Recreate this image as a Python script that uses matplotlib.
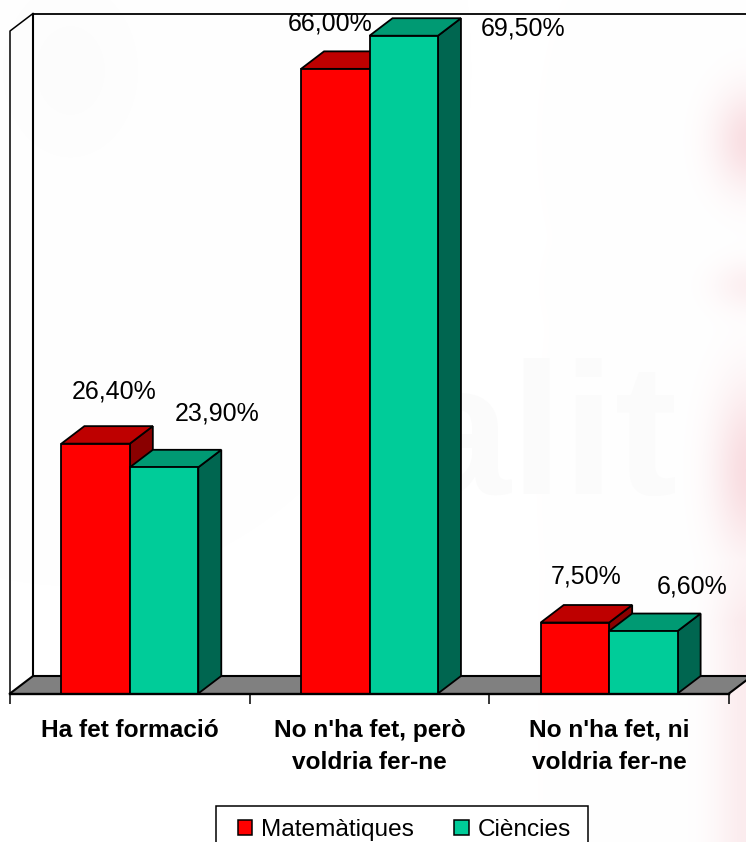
import numpy as np
import matplotlib.pyplot as plt
from matplotlib.patches import Polygon, Patch, Rectangle

plt.rcParams['font.family'] = ['Liberation Sans', 'DejaVu Sans']

W, H = 746, 842

categories = ["Ha fet formació", "No n'ha fet, però\nvoldria fer-ne", "No n'ha fet, ni\nvoldria fer-ne"]
series_names = ["Matemàtiques", "Ciències"]
matematiques = [26.4, 66.0, 7.5]
ciencies = [23.9, 69.5, 6.6]
y_max = 70

# colours: front, top, side
red_faces = ("#ff0000", "#be0000", "#8a0000")
teal_faces = ("#00cc99", "#009a73", "#006650")

# label offsets from the top centre of each front face, in pixels
red_offsets = [(19, 52), (-5, 45), (11, 46)]
teal_offsets = [(53, 54), (119, 7), (49, 45)]


def px_rect(left, top, right, bottom):
    return [left/W, 1-bottom/H, (right-left)/W, (bottom-top)/H]


fig = plt.figure(figsize=(W/100, H/100), dpi=100)

# pale scan background
bg = fig.add_axes([0, 0, 1, 1], zorder=0)
bg.axis("off")
X, Y = np.meshgrid(np.arange(W), np.arange(H))
strength = (0.45*np.clip((Y-560)/60, 0, 1)
            + 0.75*np.exp(-((Y-140)/50.0)**2)
            + 0.35*np.exp(-((Y-285)/25.0)**2)
            + 0.8*np.exp(-((Y-470)/85.0)**2))
pink = np.exp(-((X-750)/36.0)**2) * strength
grey = 0.01*np.exp(-((X-70)/70.0)**2 - ((Y-70)/90.0)**2)
img = np.ones((H, W, 3))
img[..., 0] -= grey + 0.03*pink
img[..., 1] -= grey + 0.17*pink
img[..., 2] -= grey + 0.15*pink
bg.imshow(np.clip(img, 0, 1), extent=(0, W, H, 0), aspect="auto")
bg.text(490, 445, "ealit", fontsize=135, color="#fbfbfb", ha="center", va="center", fontweight="bold")

ax = fig.add_axes(px_rect(10, 31, 729, 693.5), zorder=1)
ax.patch.set_alpha(0)
ax.set_xlim(0, 3)
ax.set_ylim(0, y_max)

# depth of the 3D box in data units
dx = 23 / (719/3)
dy = 17.5 / (662.5/y_max)
bar_w = 0.2856

# walls and floor
ax.add_patch(Polygon([(0, 0), (dx, dy), (3+dx, dy), (3, 0)], fc="#808080", ec="none", clip_on=False, zorder=1))
for xs, ys, lw in [([0, 0, dx], [0, y_max, y_max+dy], 1.1),
                   ([dx, dx], [dy, y_max+dy], 1.5),
                   ([dx, 3+dx], [y_max+dy, y_max+dy], 1.3),
                   ([0, dx, 3+dx, 3], [0, dy, dy, 0], 1.5)]:
    ax.plot(xs, ys, color="black", lw=lw, clip_on=False, zorder=1.5)

x = np.arange(len(categories)) + 0.5


def draw_bars(xpos, values, faces, offsets):
    front, top, side = faces
    for xi, v, off in zip(xpos, values, offsets):
        l, r = xi-bar_w/2, xi+bar_w/2
        ax.add_patch(Polygon([(r, 0), (r+dx, dy), (r+dx, v+dy), (r, v)], fc=side, ec="black", lw=1.3, zorder=2, clip_on=False))
        ax.add_patch(Polygon([(l, v), (l+dx, v+dy), (r+dx, v+dy), (r, v)], fc=top, ec="black", lw=1.3, zorder=2, clip_on=False))
        ax.bar(xi, v, bar_w, color=front, edgecolor="black", lw=1.3, zorder=2, clip_on=False)
        ax.annotate(f"{v:.2f}%".replace(".", ","), (xi, v), xytext=(off[0]*0.72, off[1]*0.72),
                    textcoords="offset points", ha="center", va="center", fontsize=18, color="black", zorder=5)


draw_bars(x-bar_w/2, matematiques, red_faces, red_offsets)
draw_bars(x+bar_w/2, ciencies, teal_faces, teal_offsets)

ax.set_yticks([])
for s in ["top", "left", "right"]:
    ax.spines[s].set_visible(False)
ax.spines["bottom"].set_linewidth(1.7)
ax.spines["bottom"].set_zorder(3)
ax.set_xticks([0, 1, 2, 3], labels=[])
ax.tick_params(axis="x", which="major", length=7.2, width=1.1)
ax.set_xticks(x, labels=categories, minor=True)
ax.tick_params(axis="x", which="minor", length=0, pad=18.2)
for t in ax.get_xticklabels(minor=True):
    t.set_fontsize(17.6)
    t.set_fontweight("bold")
    t.set_linespacing(1.5)
    t.set_color("black")

fig.add_artist(Rectangle((216/W, 1-850/H), 372/W, 44/H, transform=fig.transFigure, fc="white", ec="black", lw=1.1, zorder=6))
handles = [Patch(fc=red_faces[0], ec="black", lw=1.1), Patch(fc=teal_faces[0], ec="black", lw=1.1)]
leg = fig.legend(handles, series_names, loc="center", bbox_to_anchor=(404.5/W, 1-830/H),
                 bbox_transform=fig.transFigure, ncols=2, fontsize=17.6, frameon=False, borderaxespad=0, borderpad=0,
                 handlelength=0.58, handleheight=0.58, handletextpad=0.36, columnspacing=1.65)
leg.set_zorder(7)

fig.savefig("out.png", dpi=100)
